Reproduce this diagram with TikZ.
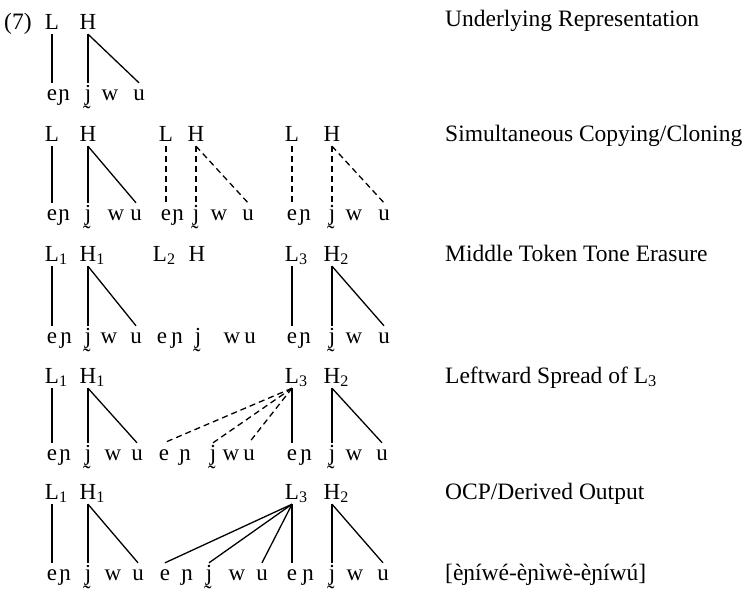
\documentclass[tikz,border=0pt]{standalone}
\usepackage{fontspec}
\setmainfont{Liberation Serif}
\usetikzlibrary{positioning}

% one row of segments: e ɲ j w u
\newcommand{\segs}[7]{%
  \node[seg] (e#1) at (#3,#2) {e};
  \node[seg] (n#1) at (#4,#2) {ɲ};
  \node[seg] (j#1) at (#5,#2) {j̰};
  \node[seg] (w#1) at (#6,#2) {w};
  \node[seg] (u#1) at (#7,#2) {u};}
\newcommand{\sub}[1]{\rlap{\textsubscript{#1}}}

\begin{document}
\begin{tikzpicture}[x=1pt, y=-1pt, line join=round, line cap=butt,
    tone/.style={inner sep=0pt, text depth=5pt, anchor=base, font=\fontsize{23}{25}\selectfont},
    seg/.style={inner sep=0pt, text height=17pt, anchor=base, font=\fontsize{23}{25}\selectfont},
    stage/.style={inner sep=0pt, anchor=base west, font=\fontsize{23.5}{26}\selectfont},
    link/.style={line width=1.3pt},
    clone/.style={line width=1.3pt, dash pattern=on 6pt off 4pt}]
  \useasboundingbox (0,0) rectangle (754,589);

  % (a) underlying
  \node[stage] (num) at (4,29) {(7)};
  \node[tone] (La) at (52,29) {L};
  \node[tone] (Ha) at (88,29) {H};
  \segs{a}{100}{52}{64}{88}{110}{139}
  \draw[link] (La.south) -- (ea.north);
  \draw[link] (Ha.south) -- (ja.north);
  \draw[link] (Ha.south) -- (ua.north);

  % (b) copying
  \node[tone] (Lb1) at (52,141) {L};
  \node[tone] (Hb1) at (88,141) {H};
  \node[tone] (Lb2) at (166,141) {L};
  \node[tone] (Hb2) at (196,141) {H};
  \node[tone] (Lb3) at (292,141) {L};
  \node[tone] (Hb3) at (332,141) {H};
  \segs{b1}{220}{52}{64}{88}{116}{136}
  \segs{b2}{220}{166}{178}{196}{219}{248}
  \segs{b3}{220}{292}{305}{332}{354}{384}
  \draw[link] (Lb1.south) -- (eb1.north);
  \draw[link] (Hb1.south) -- (jb1.north);
  \draw[link] (Hb1.south) -- (ub1.north);
  \draw[clone] (Lb2.south) -- (eb2.north);
  \draw[clone] (Hb2.south) -- (jb2.north);
  \draw[clone] (Hb2.south) -- (ub2.north);
  \draw[clone] (Lb3.south) -- (eb3.north);
  \draw[clone] (Hb3.south) -- (jb3.north);
  \draw[clone] (Hb3.south) -- (ub3.north);

  % (c) erasure
  \node[tone] (Lc1) at (52,261) {L\sub{1}};
  \node[tone] (Hc1) at (88,261) {H\sub{1}};
  \node[tone] (Lc2) at (160,261) {L\sub{2}};
  \node[tone] (Hc2) at (197,261) {H};
  \node[tone] (Lc3) at (292,261) {L\sub{3}};
  \node[tone] (Hc3) at (332,261) {H\sub{2}};
  \segs{c1}{343}{52}{66}{88}{109}{136}
  \segs{c2}{343}{162}{177}{198}{232}{250}
  \segs{c3}{343}{292}{305}{332}{354}{384}
  \draw[link] (Lc1.south) -- (ec1.north);
  \draw[link] (Hc1.south) -- (jc1.north);
  \draw[link] (Hc1.south) -- (uc1.north);
  \draw[link] (Lc3.south) -- (ec3.north);
  \draw[link] (Hc3.south) -- (jc3.north);
  \draw[link] (Hc3.south) -- (uc3.north);

  % (d) leftward spread
  \node[tone] (Ld1) at (52,383) {L\sub{1}};
  \node[tone] (Hd1) at (88,383) {H\sub{1}};
  \node[tone] (Ld3) at (292,383) {L\sub{3}};
  \node[tone] (Hd3) at (332,383) {H\sub{2}};
  \segs{d1}{460}{52}{65}{88}{113}{137}
  \segs{d2}{460}{164}{185}{213}{231}{249}
  \segs{d3}{460}{292}{306}{332}{354}{382}
  \draw[link] (Ld1.south) -- (ed1.north);
  \draw[link] (Hd1.south) -- (jd1.north);
  \draw[link] (Hd1.south) -- (ud1.north);
  \draw[link] (Ld3.south) -- (ed3.north);
  \draw[link] (Hd3.south) -- (jd3.north);
  \draw[link] (Hd3.south) -- (ud3.north);
  \foreach \s in {ed2,jd2,ud2}
    \draw[clone] (Ld3.south) -- (\s.north);

  % (e) output
  \node[tone] (Lf1) at (52,499) {L\sub{1}};
  \node[tone] (Hf1) at (88,499) {H\sub{1}};
  \node[tone] (Lf3) at (292,499) {L\sub{3}};
  \node[tone] (Hf3) at (332,499) {H\sub{2}};
  \segs{f1}{580}{52}{65}{88}{113}{138}
  \segs{f2}{580}{165}{187}{209}{237}{262}
  \segs{f3}{580}{292}{308}{332}{355}{383}
  \draw[link] (Lf1.south) -- (ef1.north);
  \draw[link] (Hf1.south) -- (jf1.north);
  \draw[link] (Hf1.south) -- (uf1.north);
  \foreach \s in {ef2,jf2,uf2,ef3}
    \draw[link] (Lf3.south) -- (\s.north);
  \draw[link] (Hf3.south) -- (jf3.north);
  \draw[link] (Hf3.south) -- (uf3.north);

  % stage names
  \node[stage] (st1) at (445,27) {Underlying Representation};
  \node[stage] (st2) at (445,141) {Simultaneous Copying/Cloning};
  \node[stage] (st3) at (445,261) {Middle Token Tone Erasure};
  \node[stage] (st4) at (445,383) {Leftward Spread of L\textsubscript{3}};
  \node[stage] (st5) at (445,499) {OCP/Derived Output};
  \node[stage] (st6) at (445,580) {[èɲíwé-èɲìwè-èɲíwú]};
\end{tikzpicture}
\end{document}
